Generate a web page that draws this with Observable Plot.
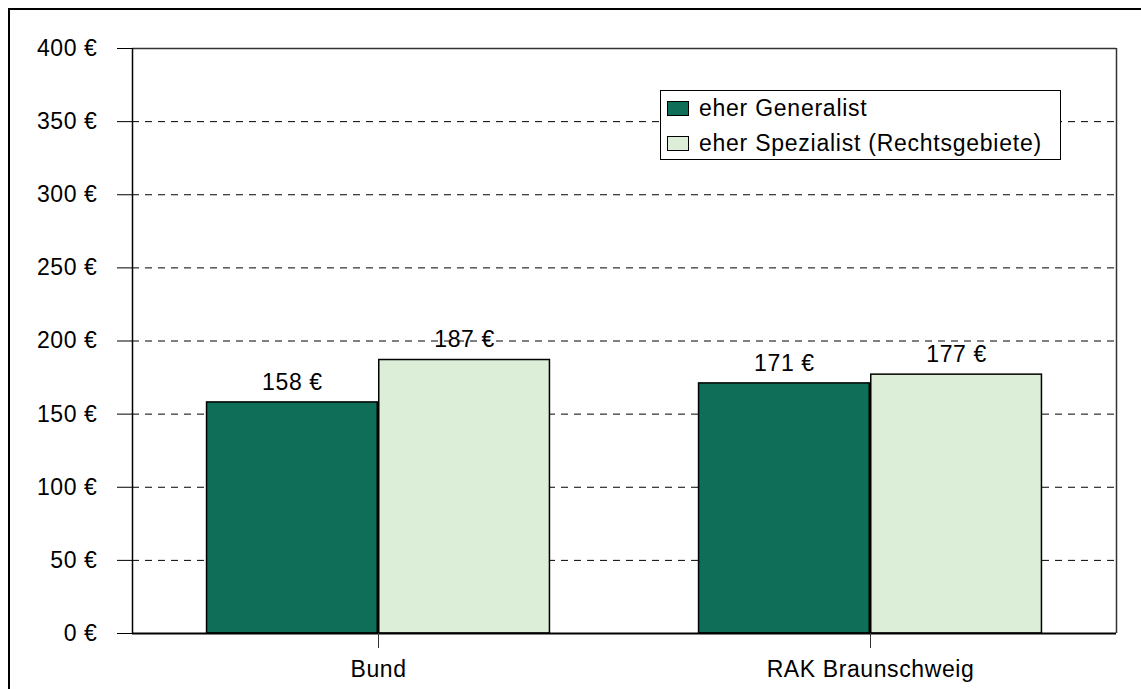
<!DOCTYPE html>
<html>
<head>
<meta charset="utf-8">
<script src="https://cdn.jsdelivr.net/npm/d3@7"></script>
<script src="https://cdn.jsdelivr.net/npm/@observablehq/plot@0.6"></script>
<style>
  body { margin: 0; background: #fff; }
  #wrap { position: relative; width: 1141px; height: 689px; overflow: hidden; font-family: "Liberation Sans", Arial, sans-serif; color: #000; }
  #border { position: absolute; left: 8px; top: 8px; width: 1300px; height: 900px; border: 2px solid #000; box-sizing: border-box; pointer-events: none; }
  #legend { position: absolute; left: 660px; top: 90px; width: 401px; height: 70px; border: 1.5px solid #000; box-sizing: border-box; background: #fff; }
  .item { position: absolute; left: 6px; display: flex; align-items: center; font-size: 23px; white-space: nowrap; letter-spacing: 0.75px; }
  .sw { width: 20px; height: 13px; border: 1.5px solid #000; margin-right: 10px; }
  svg { font-family: "Liberation Sans", Arial, sans-serif; }
  svg text { letter-spacing: 0.6px; }
</style>
</head>
<body>
<div id="wrap">
  <div id="chart"></div>
  <div id="border"></div>
  <div id="legend"></div>
</div>
<script>
const categories = ["Bund", "RAK Braunschweig"];
const seriesNames = ["eher Generalist", "eher Spezialist (Rechtsgebiete)"];
const generalist = [158, 171];
const spezialist = [187, 177];
const yTicks = [0, 50, 100, 150, 200, 250, 300, 350, 400];
const colors = ["#0F6E57", "#DCEDD8"];

const barFrac = 0.35; // bar width as a share of a category band
const rows = categories.flatMap((c, i) => [
  { cat: c, series: seriesNames[0], value: generalist[i], x1: i + 0.5 - barFrac, x2: i + 0.5 },
  { cat: c, series: seriesNames[1], value: spezialist[i], x1: i + 0.5, x2: i + 0.5 + barFrac }
]);
const centers = categories.map((c, i) => i + 0.5);

const chart = Plot.plot({
  width: 1141,
  height: 689,
  marginLeft: 132,
  marginRight: 25,
  marginTop: 48,
  marginBottom: 56,
  style: { fontFamily: "Liberation Sans, Arial, sans-serif", color: "#000", background: "transparent", overflow: "visible" },
  x: { type: "linear", domain: [0, categories.length], axis: null },
  y: { domain: [0, 400], axis: null },
  color: { domain: seriesNames, range: colors },
  marks: [
    Plot.gridY(yTicks.filter(d => d > 0), { stroke: "#000", strokeOpacity: 1, strokeDasharray: "7,6", strokeWidth: 1 }),
    Plot.rectY(rows, { x1: "x1", x2: "x2", y1: 0, y2: "value", fill: "series", stroke: "#000", strokeWidth: 1.5, insetLeft: 0.75, insetRight: 0.75 }),
    Plot.text(rows, { x: d => (d.x1 + d.x2) / 2, y: "value", text: d => `${d.value} €`, dy: -20, fontSize: 23, fill: "#000" }),
    Plot.ruleY([400], { stroke: "#333", strokeWidth: 1.5 }),
    Plot.ruleX([categories.length], { stroke: "#333", strokeWidth: 1.5 }),
    Plot.axisY(yTicks, { tickSize: 15, tickPadding: 20, tickFormat: d => `${d} €`, fontSize: 23, stroke: "#000", label: null }),
    Plot.ruleX([0], { stroke: "#000", strokeWidth: 1.5 }),
    Plot.ruleY([0], { stroke: "#000", strokeWidth: 2 }),
    Plot.axisX(centers, { tickSize: 15, tickPadding: 12, tickFormat: d => categories[Math.round(d - 0.5)], fontSize: 23, stroke: "#333", label: null })
  ]
});
document.getElementById("chart").appendChild(chart);

const legend = document.getElementById("legend");
seriesNames.forEach((s, i) => {
  const item = document.createElement("div");
  item.className = "item";
  item.style.top = (i === 0 ? 4 : 39) + "px";
  const sw = document.createElement("div");
  sw.className = "sw";
  sw.style.background = colors[i];
  const t = document.createElement("span");
  t.textContent = s;
  item.appendChild(sw);
  item.appendChild(t);
  legend.appendChild(item);
});
</script>
</body>
</html>
